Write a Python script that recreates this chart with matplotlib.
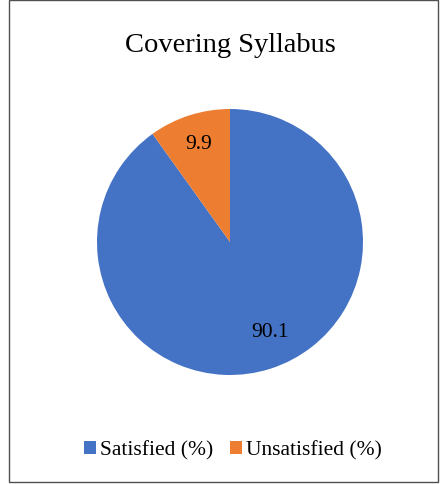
import matplotlib
matplotlib.use("Agg")
import matplotlib.pyplot as plt
from matplotlib.patches import Patch, Rectangle

plt.rcParams['font.family'] = ['Liberation Serif', 'DejaVu Serif']

# data
categories = ['Satisfied (%)', 'Unsatisfied (%)']
values = [90.1, 9.9]
colors = ['#4472C4', '#ED7D31']

W, H = 440, 485
fig = plt.figure(figsize=(W / 100, H / 100), dpi=100)

# chart frame
fig.patches.append(Rectangle((9 / W, (H - 483) / H), 429 / W, 482 / H,
                             transform=fig.transFigure, fill=False,
                             edgecolor='#505050', lw=1))

fig.text(230 / W, 1 - 45 / H, 'Covering Syllabus', ha='center', va='center',
         fontsize=20.5)

# pie centre ~(230, 243), radius ~133 px
ax = fig.add_axes([97 / W, (H - 243 - 133) / H, 266 / W, 266 / H])
wedges, texts = ax.pie(values, colors=colors, startangle=90, counterclock=False,
                       labels=[f'{v:g}' for v in values], labeldistance=0.78,
                       radius=1, wedgeprops=dict(linewidth=0),
                       textprops=dict(fontsize=15.5, ha='center', va='center'))
for t in texts:
    t.set_ha('center')
# Excel nudges the big label a bit to the right
x, y = texts[0].get_position()
texts[0].set_position((x + 0.06, y + 0.07))
ax.set_xlim(-1, 1)
ax.set_ylim(-1, 1)
ax.set_aspect('equal')
ax.axis('off')

handles = [Patch(facecolor=c, edgecolor='none') for c in colors]
fig.legend(handles, categories, loc='center', bbox_to_anchor=(233 / W, 1 - 451 / H),
           ncol=2, frameon=False, fontsize=15.5, handlelength=0.55, handleheight=0.55,
           handletextpad=0.2, columnspacing=0.8)

fig.savefig('out.png', dpi=100)
